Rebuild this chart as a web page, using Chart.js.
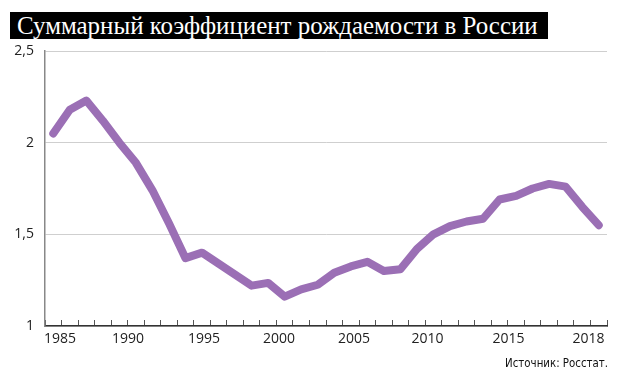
<!DOCTYPE html>
<html>
<head>
<meta charset="utf-8">
<script src="https://cdn.jsdelivr.net/npm/chart.js@4"></script>
<style>
  html, body { margin: 0; padding: 0; background: #fff; }
  #wrap { position: relative; width: 620px; height: 381px; overflow: hidden; }
  #title {
    position: absolute; left: 10px; top: 12px; width: 538px; height: 27px;
    background: #000; color: #fff;
    font-family: "Liberation Serif", "DejaVu Serif", serif; font-size: 24px;
    line-height: 27px; padding-left: 7px; box-sizing: border-box; white-space: nowrap; overflow: hidden;
  }
  #title span { display: inline-block; }
  #source {
    position: absolute; right: 12px; top: 356px;
    font-family: "Liberation Sans Narrow", "DejaVu Sans Condensed", sans-serif;
    font-size: 13px; color: #111;
  }
  canvas { position: absolute; left: 0; top: 0; }
</style>
</head>
<body>
<div id="wrap">
  <canvas id="c" width="620" height="381"></canvas>
  <div id="title"><span id="tt">Суммарный коэффициент рождаемости в России</span></div>
  <div id="source">Источник: Росстат.</div>
</div>
<script>
const years = [1985,1986,1987,1988,1989,1990,1991,1992,1993,1994,1995,1996,1997,1998,1999,2000,2001,2002,2003,2004,2005,2006,2007,2008,2009,2010,2011,2012,2013,2014,2015,2016,2017,2018];
const tfr = [2.05,2.18,2.23,2.12,2.00,1.89,1.74,1.56,1.37,1.40,1.34,1.28,1.22,1.235,1.16,1.20,1.225,1.29,1.325,1.35,1.30,1.31,1.42,1.50,1.545,1.57,1.585,1.69,1.71,1.75,1.775,1.76,1.65,1.55];
const xTickLabels = ["1985","1990","1995","2000","2005","2010","2015","2018"];
const xLabelAt = [1985.41,1989.52,1994.12,1998.66,2003.19,2007.64,2012.54,2017.38];
const yTicks = [1, 1.5, 2, 2.5];

// fit title text width to reference (~521px)
(function () {
  const tt = document.getElementById('tt');
  const w = tt.getBoundingClientRect().width;
  if (w > 0) {
    const size = 24 * 521 / w;
    tt.style.fontSize = size.toFixed(2) + 'px';
  }
  const src = document.getElementById('source');
  const sw = src.getBoundingClientRect().width;
  if (sw > 0) src.style.fontSize = (13 * 103 / sw).toFixed(2) + 'px';
})();

const points = years.map((y, i) => ({ x: y, y: tfr[i] }));
const xMin = years[0] - 0.5, xMax = years[years.length - 1] + 0.5;

new Chart(document.getElementById('c'), {
  type: 'line',
  data: {
    datasets: [{
      data: points,
      borderColor: '#9b6fb5',
      borderWidth: 8,
      pointRadius: 0,
      tension: 0,
      borderJoinStyle: 'round',
      borderCapStyle: 'round',
      clip: false
    }]
  },
  options: {
    responsive: false,
    animation: false,
    layout: { padding: { left: 0, right: 13, top: 51, bottom: 0 } },
    plugins: { legend: { display: false }, title: { display: false }, tooltip: { enabled: false } },
    scales: {
      x: {
        type: 'linear', position: 'bottom', min: xMin, max: xMax,
        afterBuildTicks: s => { const t = []; for (let v = xMin; v <= xMax + 1e-9; v += 1) t.push({ value: v }); s.ticks = t; },
        afterFit: s => { s.height = 0; },
        ticks: { display: false },
        grid: { drawOnChartArea: false, drawTicks: true, tickLength: -6, color: '#555', lineWidth: 1 },
        border: { display: true, color: '#333', width: 1.5 }
      },
      xl: {
        type: 'linear', position: 'bottom', min: xMin, max: xMax,
        afterBuildTicks: s => { s.ticks = xLabelAt.map(v => ({ value: v })); },
        afterFit: s => { s.height = 55; },
        ticks: {
          autoSkip: false, maxRotation: 0, padding: 5,
          callback: (v, i) => xTickLabels[i],
          font: { family: '"Open Sans", Lato, sans-serif', size: 14 },
          color: '#222'
        },
        grid: { display: false, drawTicks: false },
        border: { display: false }
      },
      y: {
        min: 1, max: 2.5,
        afterBuildTicks: s => { s.ticks = yTicks.map(v => ({ value: v })); },
        afterFit: s => { s.width = 45; },
        ticks: {
          padding: 11,
          callback: v => String(v).replace('.', ','),
          font: { family: '"Open Sans", Lato, sans-serif', size: 14 },
          color: '#222'
        },
        grid: { drawTicks: false, color: '#cfcfcf', lineWidth: 1 },
        border: { display: true, color: '#888', width: 1.5 }
      }
    }
  }
});
</script>
</body>
</html>
